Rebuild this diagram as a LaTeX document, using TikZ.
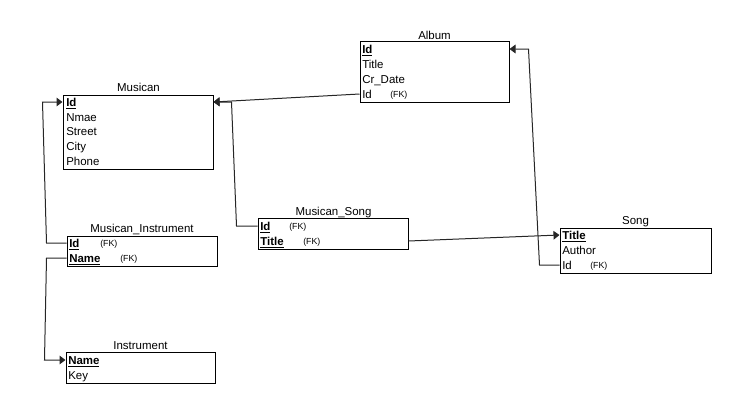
\documentclass[tikz,border=0pt]{standalone}
\usepackage{fontspec}
\setmainfont{Liberation Sans}
\usetikzlibrary{arrows.meta,fit}

\begin{document}
\begin{tikzpicture}[x=0.75pt,y=-0.75pt,>={Triangle[length=4.5pt,width=6.5pt]},
  tbl/.style={draw,line width=0.75pt,inner sep=0pt},
  ttl/.style={inner sep=0pt,text height=6.15pt,text depth=0pt,font=\fontsize{8.6}{10}\selectfont},
  row/.style={anchor=west,inner sep=0pt,text height=6.15pt,text depth=0pt,font=\fontsize{8.6}{10}\selectfont},
  fk/.style={anchor=west,inner sep=0pt,text height=4.7pt,text depth=0pt,font=\fontsize{6.6}{8}\selectfont},
  link/.style={draw=black!85,line width=0.75pt}]
\useasboundingbox (0,0) rectangle (736,408);

% Album
\node[tbl,fit={(360,41) (509,102)}] (album) {};
\node[ttl] (albumT) at (434.5,35) {Album};
\node[row] (albId) at (362,49) {\underline{\textbf{Id}}};
\node[row] (albTitle) at (362,64) {Title};
\node[row] (albDate) at (362,79) {Cr\_Date};
\node[row] (albFk) at (362,94) {Id};
\node[fk] (albFkT) at (390,94) {(FK)};

% Musican
\node[tbl,fit={(63,95) (213,169)}] (musican) {};
\node[ttl] (musicanT) at (138.5,87) {Musican};
\node[row] (musId) at (66,102) {\underline{\textbf{Id}}};
\node[row] (musName) at (66,117) {Nmae};
\node[row] (musStreet) at (66,131) {Street};
\node[row] (musCity) at (66,146) {City};
\node[row] (musPhone) at (66,161) {Phone};

% Musican_Instrument
\node[tbl,fit={(67,236) (217,266)}] (minst) {};
\node[ttl] (minstT) at (142,228) {Musican\_Instrument};
\node[row] (miId) at (69,243) {\underline{\textbf{Id}}};
\node[fk] (miIdT) at (100,243) {(FK)};
\node[row] (miName) at (69,258) {\underline{\textbf{Name}}};
\node[fk] (miNameT) at (120,258) {(FK)};

% Musican_Song
\node[tbl,fit={(258,218) (408,249)}] (msong) {};
\node[ttl] (msongT) at (333.5,211) {Musican\_Song};
\node[row] (msId) at (260,226) {\underline{\textbf{Id}}};
\node[fk] (msIdT) at (289,226) {(FK)};
\node[row] (msTitle) at (260,241) {\underline{\textbf{Title}}};
\node[fk] (msTitleT) at (303,241) {(FK)};

% Song
\node[tbl,fit={(560,228) (711,273)}] (song) {};
\node[ttl] (songT) at (635.5,220) {Song};
\node[row] (songTitle) at (562,235) {\underline{\textbf{Title}}};
\node[row] (songAuthor) at (562,250) {Author};
\node[row] (songId) at (562,265) {Id};
\node[fk] (songIdT) at (590,265) {(FK)};

% Instrument
\node[tbl,fit={(66,352) (215,383)}] (instr) {};
\node[ttl] (instrT) at (140.5,345) {Instrument};
\node[row] (insName) at (68,360) {\underline{\textbf{Name}}};
\node[row] (insKey) at (68,375) {Key};

% links
\draw[link,->] (album.west |- albFk) -- (musican.east |- musId);
\draw[link,->] (msong.west |- msId) -- ++(-21,0) -- ++(-5,-124) -- (musican.east |- musId);
\draw[link,->] (minst.west |- miId) -- ++(-20,0) -- ++(-4,-141) -- (musican.west |- musId);
\draw[link,->] (minst.west |- miName) -- ++(-20,0) -- ++(-2,102) -- (instr.west |- insName);
\draw[link,->] (msong.east |- msTitle) -- (song.west |- songTitle);
\draw[link,->] (song.west |- songId) -- ++(-20,0) -- ++(-11,-216) -- (album.east |- albId);
\end{tikzpicture}
\end{document}
